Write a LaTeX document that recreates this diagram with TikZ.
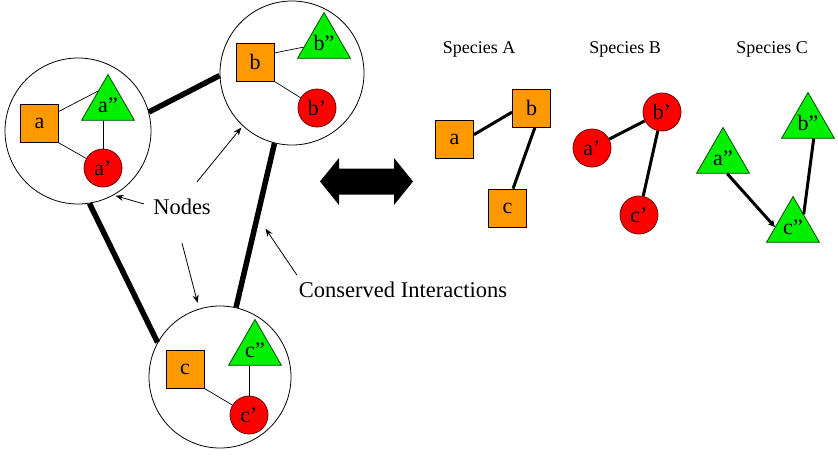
\documentclass[tikz,border=0pt]{standalone}
\usepackage{fontspec}
\setmainfont{Liberation Serif}
\usetikzlibrary{positioning, arrows.meta, shapes.geometric}

\definecolor{protorange}{RGB}{255,153,0}
\definecolor{protred}{RGB}{255,0,0}
\definecolor{protgreen}{RGB}{0,240,0}
\newcommand\lblfont{\fontsize{22}{24}\selectfont}
\newcommand\capfont{\fontsize{22.5}{26}\selectfont}
\newcommand\spfont{\fontsize{18}{21}\selectfont}

\begin{document}
\begin{tikzpicture}[
    x=1pt, y=-1pt,
    >=Stealth,
    group/.style={circle, draw=black, line width=0.8pt, inner sep=0pt},
    prot sq/.style={rectangle, draw=black, line width=0.8pt, fill=protorange,
                    minimum size=38pt, inner sep=0pt, font=\lblfont},
    prot ci/.style={circle, draw=red!45!black, line width=0.8pt, fill=protred,
                    minimum size=38pt, inner sep=0pt, font=\lblfont},
    prot tr/.style={regular polygon, regular polygon sides=3, draw=black!70!green,
                    line width=0.8pt, fill=protgreen, minimum size=61pt, inner sep=0pt,
                    font=\lblfont},
    link/.style={line width=0.7pt},
    edge/.style={line width=3pt},
    cons/.style={line width=5.5pt},
    note/.style={line width=0.8pt, -{Stealth[length=8pt, width=6pt]}},
]

\path[use as bounding box, fill=white] (0,0) rectangle (838,458);

% Nodes (groups of matched proteins)
\node[group, minimum size=146pt] (NA) at (78,131) {};
\node[group, minimum size=144pt] (NB) at (292,73) {};
\node[group, minimum size=142pt] (NC) at (220,377) {};

% Group A
\node[prot sq] (NAsq) at (39.5,123.5) {a};
\node[prot tr] (NAtr) at (108,105) {a''};
\node[prot ci] (NAci) at (103,168) {a'};
\draw[link] (NAsq.32) -- (NAtr.126);
\draw[link] (NAsq.south east) -- (NAci);
\draw[link] (NAci.north) -- (NAci.north |- NAtr.side 2);

% Group B
\node[prot sq] (NBsq) at (255,62) {b};
\node[prot tr] (NBtr) at (324,43) {b''};
\node[prot ci] (NBci) at (317,108) {b'};
\draw[link] (NBsq.25) -- (NBtr);
\draw[link] (NBsq.south east) -- (NBci);

% Group C
\node[prot sq] (NCsq) at (185,369) {c};
\node[prot tr] (NCtr) at (255,350) {c''};
\node[prot ci] (NCci) at (249,415) {c'};
\draw[link] (NCsq.south east) -- (NCci);
\draw[link] (NCci.north) -- (NCci.north |- NCtr.side 2);

% Conserved interactions
\draw[cons] (NA.15) -- (NB.182);
\draw[cons] (NA.279) -- (NC.151);
\draw[cons] (NB.256) -- coordinate[pos=0.52] (bcmid) (NC.77);

% Labels and pointers
\node[font=\capfont, inner sep=0pt] (lbln) at (182,207) {Nodes};
\node[font=\capfont, inner sep=0pt] (lblc) at (403,290) {Conserved Interactions};
\draw[note, shorten >=2pt] ([xshift=-9pt, yshift=3pt]lbln.west) -- (NA.-61);
\draw[note, shorten >=2pt] ([xshift=15pt, yshift=17pt]lbln.north) -- (NB.227);
\draw[note, shorten >=6pt] ([yshift=-28pt]lbln.south) -- (NC.107);
\draw[note] ([xshift=-2pt, yshift=7pt]lblc.north west) -- ([xshift=11pt]bcmid);

% Double arrow
\fill (320,181.5) -- (339,158) -- (339,168.5) -- (394,168.5) -- (394,158) -- (413,181.5)
    -- (394,205) -- (394,194.5) -- (339,194.5) -- (339,205) -- cycle;

% Species networks
\node[font=\spfont] (spA) at (479,49) {Species A};
\node[font=\spfont] (spB) at (625,49) {Species B};
\node[font=\spfont] (spC) at (772,49) {Species C};

\node[prot sq] (sa) at (454.5,139.5) {a};
\node[prot sq] (sb) at (531.5,108) {b};
\node[prot sq] (sc) at (507.5,208) {c};
\draw[edge] (sa.14) -- (sb.192);
\draw[edge] (sb.-80) -- (sc.74);

\node[prot ci] (ra) at (592,148) {a'};
\node[prot ci] (rb) at (662,112) {b'};
\node[prot ci] (rc) at (639,215) {c'};
\draw[edge] (ra) -- (rb);
\draw[edge] (rb) -- (rc);

\node[prot tr] (ga) at (723,158) {a''};
\node[prot tr] (gb) at (808,123) {b''};
\node[prot tr] (gc) at (793,227) {c''};
\draw[edge, -{Stealth[length=7pt, width=7pt]}] (ga.-75) -- (gc.180);
\draw[edge] (gb.-70) -- (gc.50);

\end{tikzpicture}
\end{document}
